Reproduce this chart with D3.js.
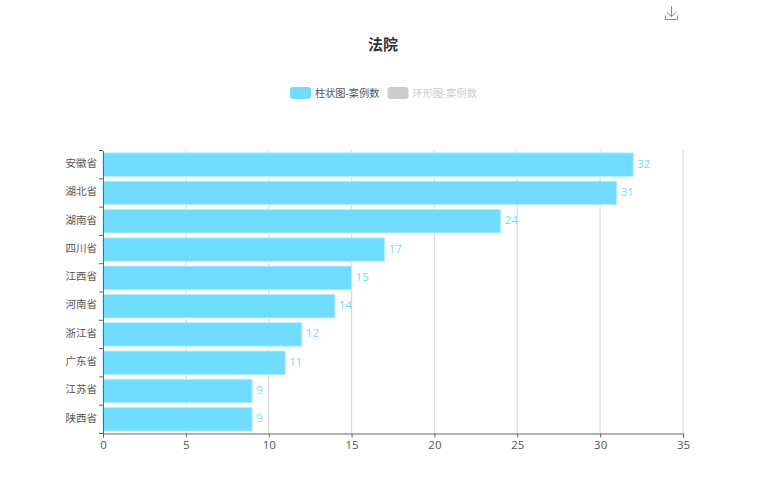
<!DOCTYPE html>
<html>
<head>
<meta charset="utf-8">
<script src="https://cdn.jsdelivr.net/npm/d3@7/dist/d3.min.js"></script>
<style>
html, body { margin: 0; padding: 0; background: #fff; }
text { font-family: "Open Sans", "Noto Sans CJK SC", sans-serif; }
</style>
</head>
<body>
<div id="chart"></div>
<script>
var provinces = ["安徽省", "湖北省", "湖南省", "四川省", "江西省", "河南省", "浙江省", "广东省", "江苏省", "陕西省"];
var cases = [32, 31, 24, 17, 15, 14, 12, 11, 9, 9];
var xTicks = [0, 5, 10, 15, 20, 25, 30, 35];
var legendNames = ["柱状图-案例数", "环形图-案例数"];
var titleText = "法院";

var width = 766, height = 500;
var left = 103, right = 683, top_ = 150.5, bottom = 433.5;
var barColor = "#70dcff", axisColor = "#666", labelColor = "#555";

var svg = d3.select("#chart").append("svg")
    .attr("width", width)
    .attr("height", height)
    .style("display", "block");

var x = d3.scaleLinear().domain([0, 35]).range([left, right]);
var y = d3.scaleBand().domain(provinces).range([top_, bottom]).paddingInner(0.17).paddingOuter(0.085);
var yEdge = d3.scaleLinear().domain([0, provinces.length]).range([top_, bottom]);

// title
svg.append("text")
    .attr("x", 383).attr("y", 50)
    .attr("text-anchor", "middle")
    .style("font-size", "15px")
    .style("font-weight", "bold")
    .style("fill", "#333")
    .text(titleText);

// save icon
svg.append("path")
    .attr("d", "M671.5 6V16.5M666.5 12L671.5 16.5L676.5 12M665.5 15.5V19.5H677.5V15.5")
    .attr("fill", "none")
    .attr("stroke", "#8a8a8a")
    .attr("stroke-width", 1);

// legend
var legendX = [290, 387.5];
var legendFill = [barColor, "#ccc"];
var legendText = ["#555", "#ccc"];
var legend = svg.selectAll(".legend")
    .data(legendNames)
    .enter()
    .append("g")
    .attr("class", "legend")
    .attr("transform", function(d, i) { return "translate(" + legendX[i] + ",87)"; });
legend.append("rect")
    .attr("width", 21).attr("height", 12).attr("rx", 3)
    .attr("fill", function(d, i) { return legendFill[i]; });
legend.append("text")
    .attr("x", 25).attr("y", 9.5)
    .style("font-size", "10.2px")
    .style("fill", function(d, i) { return legendText[i]; })
    .text(function(d) { return d; });

// vertical grid
svg.selectAll(".grid")
    .data(xTicks.slice(1))
    .enter()
    .append("line")
    .attr("class", "grid")
    .attr("x1", function(d) { return x(d); })
    .attr("x2", function(d) { return x(d); })
    .attr("y1", top_).attr("y2", bottom)
    .attr("stroke", "#dcdcdc")
    .attr("stroke-width", 1.2);

// bars
svg.selectAll(".bar")
    .data(cases)
    .enter()
    .append("rect")
    .attr("class", "bar")
    .attr("x", left)
    .attr("y", function(d, i) { return y(provinces[i]); })
    .attr("width", function(d) { return x(d) - x(0); })
    .attr("height", y.bandwidth())
    .attr("fill", barColor)
    .attr("stroke", "#b5edff")
    .attr("stroke-width", 1);

// value labels
svg.selectAll(".val")
    .data(cases)
    .enter()
    .append("text")
    .attr("class", "val")
    .attr("x", function(d) { return x(d) + 4; })
    .attr("y", function(d, i) { return y(provinces[i]) + y.bandwidth() / 2 + 3; })
    .style("font-size", "11.5px")
    .style("fill", "#70dcff")
    .text(function(d) { return d; });

// x axis
var xAxis = svg.append("g")
    .attr("transform", "translate(0," + bottom + ")")
    .call(d3.axisBottom(x).tickValues(xTicks).tickSize(4).tickPadding(3));
xAxis.selectAll("text").style("font-size", "11.5px").style("fill", labelColor);

// y axis
var yAxis = svg.append("g")
    .attr("transform", "translate(" + left + ",0)")
    .call(d3.axisLeft(y).tickSize(0).tickPadding(6));
yAxis.selectAll("text").attr("dy", "0.22em").style("font-size", "10.5px").style("fill", labelColor);
yAxis.selectAll(".tick line").remove();
yAxis.selectAll(".edge")
    .data(d3.range(provinces.length + 1))
    .enter()
    .append("line")
    .attr("class", "edge")
    .attr("x1", -4).attr("x2", 0)
    .attr("y1", function(d) { return yEdge(d); })
    .attr("y2", function(d) { return yEdge(d); });

svg.selectAll(".domain, .tick line, .edge")
    .attr("stroke", axisColor);
</script>
</body>
</html>
